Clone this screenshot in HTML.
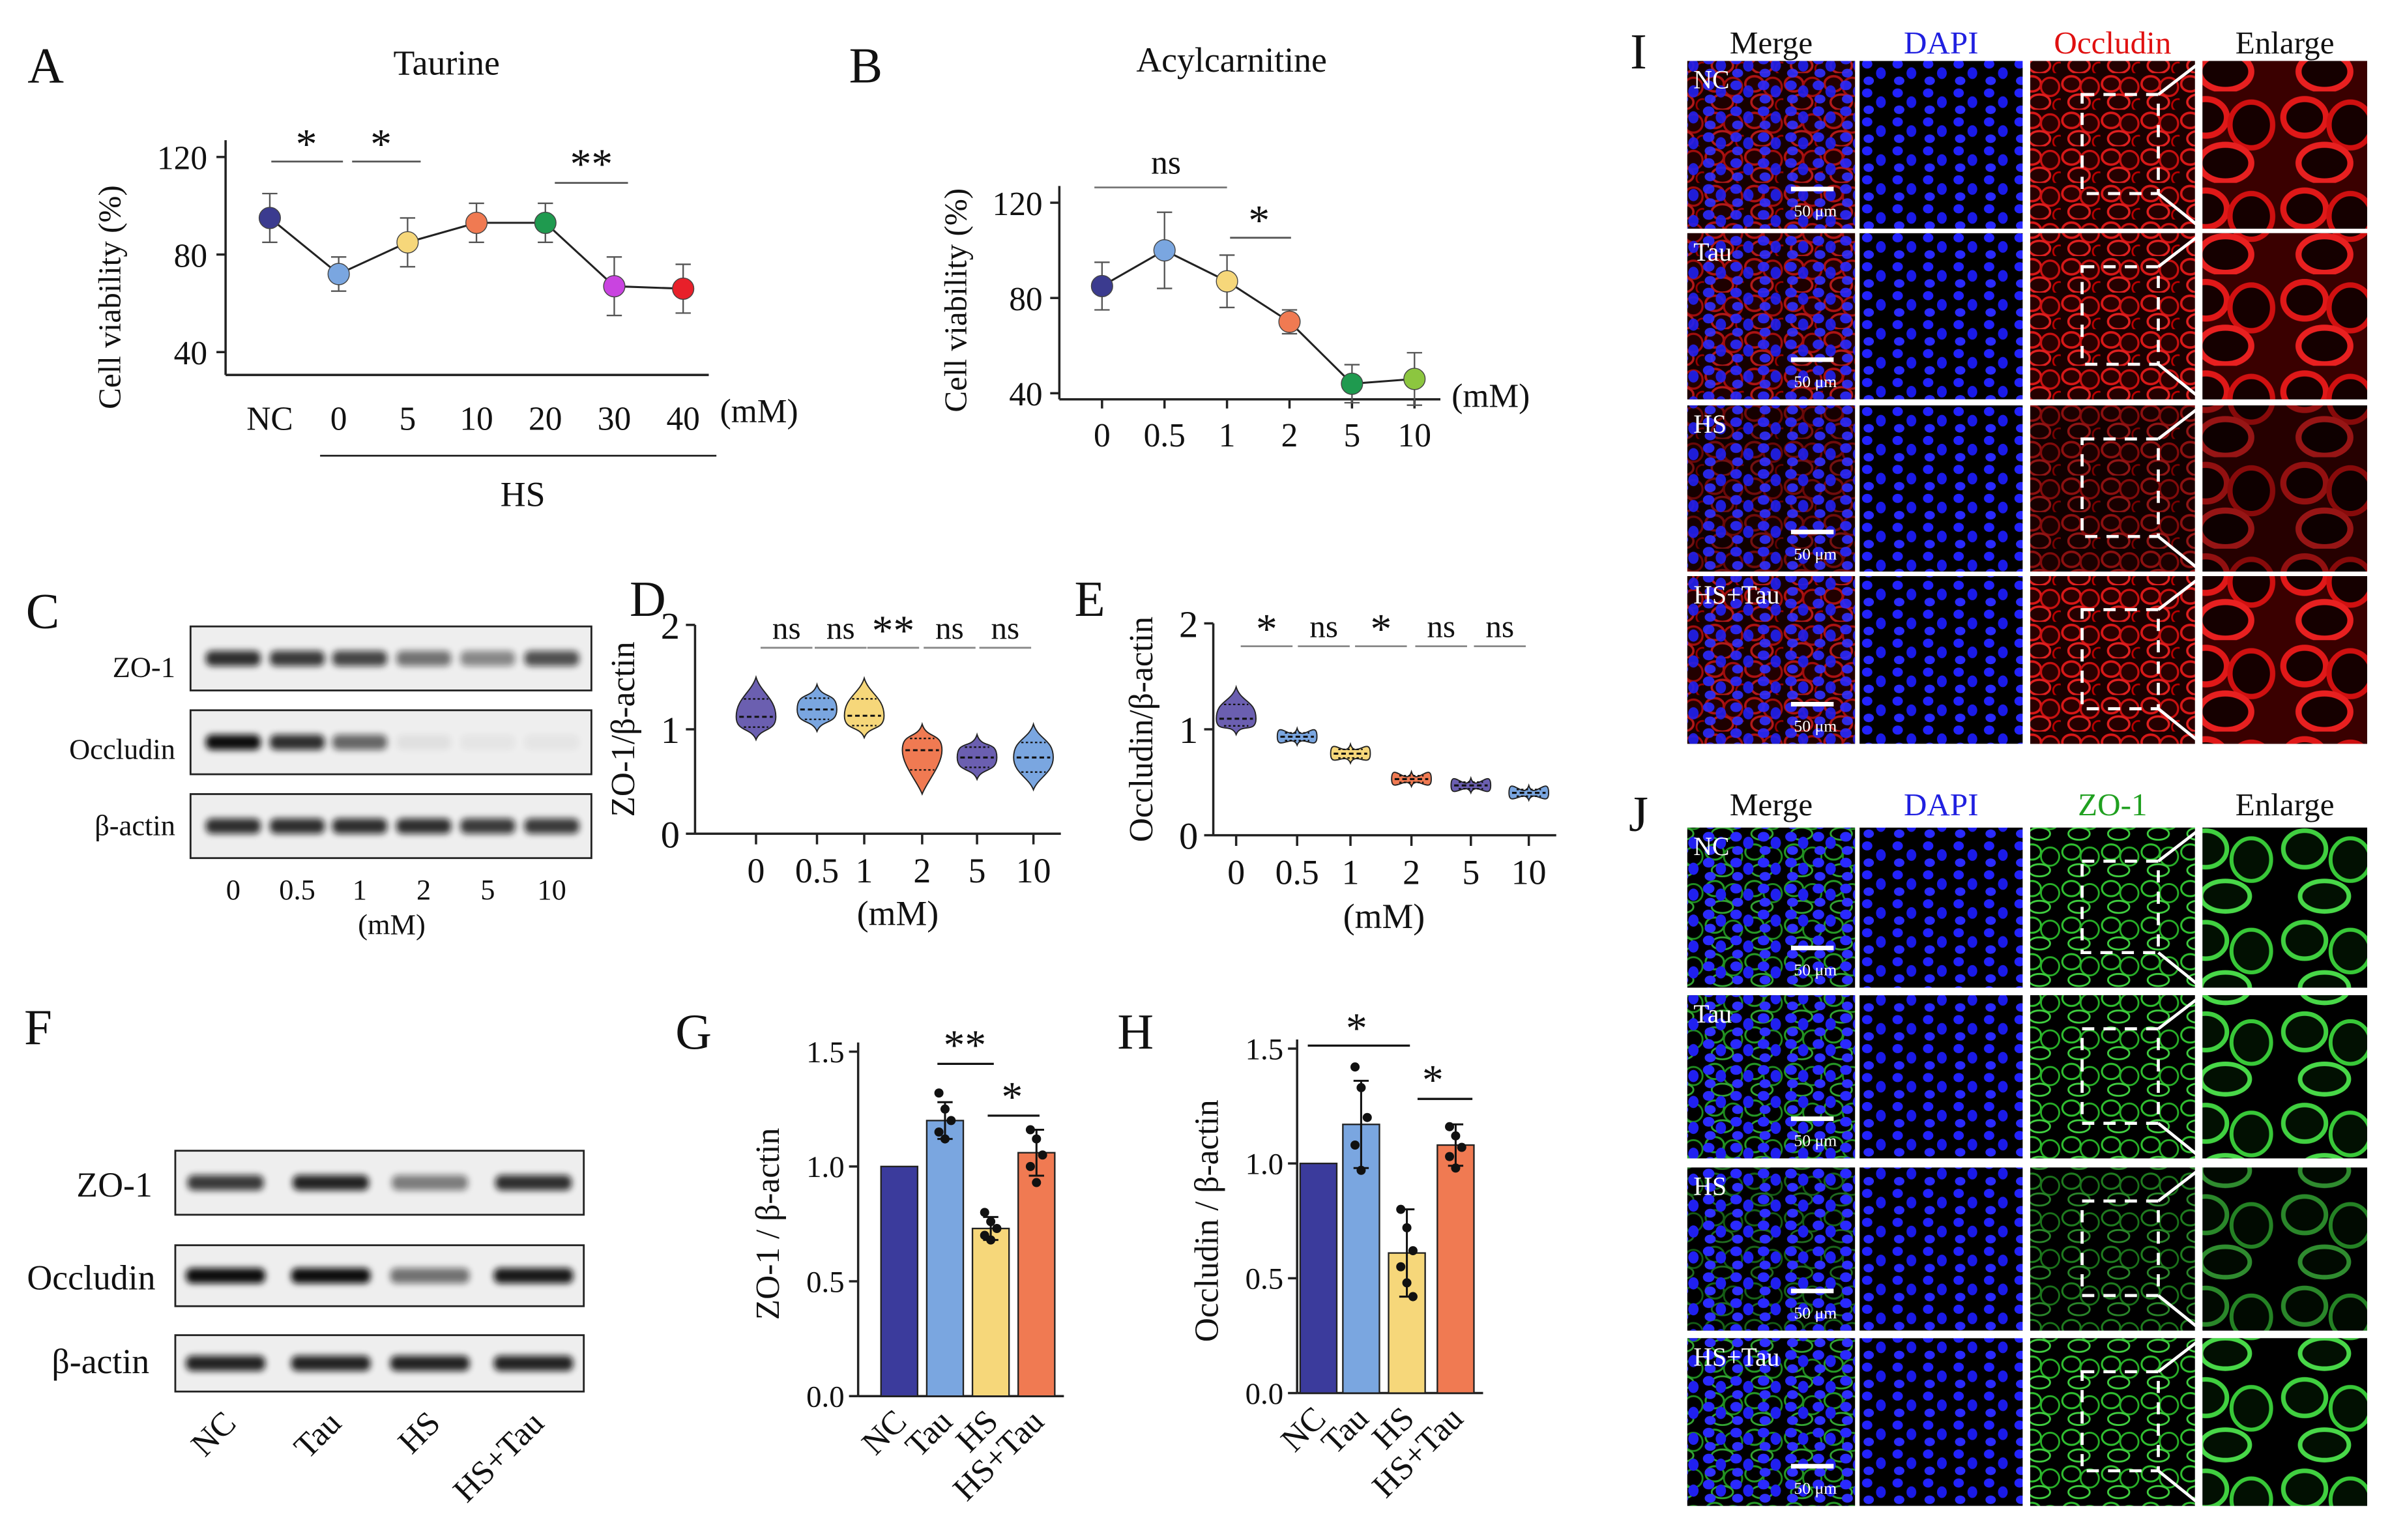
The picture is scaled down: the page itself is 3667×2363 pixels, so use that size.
<!DOCTYPE html>
<html><head><meta charset="utf-8">
<style>
html,body{margin:0;padding:0;background:#fff;}
svg{display:block;font-family:"Liberation Serif","DejaVu Serif",serif;}
</style></head>
<body>
<svg id="fig" xmlns="http://www.w3.org/2000/svg" width="3667" height="2363" viewBox="0 0 1568 1010.4" preserveAspectRatio="none">
<defs>
<filter id="blur1" x="-20%" y="-50%" width="140%" height="200%"><feGaussianBlur stdDeviation="2.2"/></filter>
<pattern id="pRed" width="26" height="24" patternUnits="userSpaceOnUse">
<rect width="26" height="24" fill="#1a0000"/>
<ellipse cx="7" cy="7" rx="6" ry="5" fill="#2a0000" stroke="#d81818" stroke-width="1.6"/>
<ellipse cx="19" cy="9" rx="6" ry="6" fill="#2a0000" stroke="#c81010" stroke-width="1.4"/>
<ellipse cx="12" cy="19" rx="7" ry="5" fill="#250000" stroke="#e02020" stroke-width="1.5"/>
<ellipse cx="25" cy="21" rx="4" ry="4" fill="none" stroke="#b00" stroke-width="1.2"/>
</pattern>
<pattern id="pRedBig" width="65" height="60" patternUnits="userSpaceOnUse">
<rect width="65" height="60" fill="#3a0000"/>
<ellipse cx="17" cy="17" rx="14" ry="12" fill="#150000" stroke="#e01818" stroke-width="4"/>
<ellipse cx="47" cy="22" rx="14" ry="15" fill="#150000" stroke="#d01010" stroke-width="3.5"/>
<ellipse cx="30" cy="47" rx="17" ry="12" fill="#150000" stroke="#e82020" stroke-width="4"/>
</pattern>
<pattern id="pNuc" width="18" height="17" patternUnits="userSpaceOnUse">
<ellipse cx="5" cy="5" rx="3.8" ry="3.2" fill="#2a2aff"/>
<ellipse cx="13" cy="9" rx="3.4" ry="4" fill="#2020f0"/>
<ellipse cx="6" cy="14" rx="3.6" ry="2.9" fill="#3030ff"/>
</pattern>
<pattern id="pNucD" width="20" height="19" patternUnits="userSpaceOnUse">
<rect width="20" height="19" fill="#000"/>
<ellipse cx="5" cy="4" rx="3.4" ry="3" fill="#2222ff"/>
<ellipse cx="14" cy="10" rx="3.2" ry="3.8" fill="#1a1ae8"/>
<ellipse cx="6" cy="15" rx="3.4" ry="2.8" fill="#2a2aff"/>
</pattern>
<pattern id="pGrn" width="26" height="24" patternUnits="userSpaceOnUse">
<rect width="26" height="24" fill="#000"/>
<ellipse cx="7" cy="7" rx="6" ry="5" fill="none" stroke="#30c030" stroke-width="1.3"/>
<ellipse cx="19" cy="10" rx="6" ry="6" fill="none" stroke="#28b028" stroke-width="1.2"/>
<ellipse cx="12" cy="19" rx="7" ry="4" fill="none" stroke="#40d040" stroke-width="1.2"/>
</pattern>
<pattern id="pGrnBig" width="65" height="60" patternUnits="userSpaceOnUse">
<rect width="65" height="60" fill="#000"/>
<ellipse cx="17" cy="17" rx="14" ry="12" fill="#021002" stroke="#40d040" stroke-width="3"/>
<ellipse cx="47" cy="24" rx="13" ry="14" fill="#021002" stroke="#38c838" stroke-width="2.6"/>
<ellipse cx="30" cy="48" rx="16" ry="10" fill="#021002" stroke="#48d848" stroke-width="3"/>
</pattern>
</defs>
</svg>
<script>
// ---------- data ----------
const aCats = ["NC","0","5","10","20","30","40"];
const aVals = [95,72,85,93,93,67,66];
const aErr = [10,7,10,8,8,12,10];
const aColors = ["#3b3b8f","#7aa6e0","#f6d77a","#f07a52","#1f9a4f","#c944e0","#e8202a"];
const aTicks = [40,80,120];

const bCats = ["0","0.5","1","2","5","10"];
const bVals = [85,100,87,70,44,46];
const bErr = [10,16,11,5,8,11];
const bColors = ["#3b3b8f","#7aa6e0","#f6d77a","#f07a52","#1f9a4f","#8cc63f"];
const bTicks = [40,80,120];

const dCats = ["0","0.5","1","2","5","10"];
const dMed = [1.12,1.19,1.13,0.80,0.73,0.73];
const dTop = [1.50,1.43,1.49,1.05,0.95,1.05];
const dBot = [0.90,0.98,0.92,0.38,0.52,0.42];
const dColors = ["#6b5fb0","#7aa6e0","#f6d77a","#f07a52","#6b5fb0","#7aa6e0"];
const dSig = ["ns","ns","**","ns","ns"];
const dTicks = [0,1,2];

const eCats = ["0","0.5","1","2","5","10"];
const eMed = [1.10,0.93,0.77,0.53,0.47,0.40];
const eTop = [1.40,1.01,0.86,0.60,0.54,0.47];
const eBot = [0.95,0.85,0.68,0.46,0.40,0.33];
const eColors = ["#6b5fb0","#7aa6e0","#f6d77a","#f07a52","#6b5fb0","#7aa6e0"];
const eSig = ["*","ns","*","ns","ns"];
const eTicks = [0,1,2];

const gCats = ["NC","Tau","HS","HS+Tau"];
const gVals = [1.0,1.2,0.73,1.06];
const gErr = [0,0.08,0.05,0.1];
const gPts = [[],[1.32,1.25,1.2,1.15,1.12],[0.8,0.76,0.73,0.7,0.68],[1.16,1.12,1.05,1.0,0.93]];
const hCats = ["NC","Tau","HS","HS+Tau"];
const hVals = [1.0,1.17,0.61,1.08];
const hErr = [0,0.19,0.19,0.09];
const hPts = [[],[1.42,1.33,1.2,1.08,0.97],[0.8,0.72,0.62,0.55,0.48,0.42],[1.16,1.12,1.07,1.03,0.98]];
const barColors = ["#3b3b9c","#7aa6e0","#f6d77a","#f07a52"];
const ghTicks = [0,0.5,1.0,1.5];

const cZO = [0.85,0.8,0.75,0.55,0.45,0.7];
const cOcc = [1.0,0.85,0.6,0.06,0.04,0.04];
const cAct = [0.85,0.85,0.85,0.85,0.8,0.8];
const fZO = [0.8,0.9,0.5,0.85];
const fOcc = [1.0,1.0,0.55,0.95];
const fAct = [0.9,0.9,0.9,0.9];

// ---------- helpers ----------
const NS="http://www.w3.org/2000/svg";
const svg=document.getElementById('fig');
function mk(tag,attrs,name,parent){
  const e=document.createElementNS(NS,tag);
  for(const k in attrs) e.setAttribute(k,attrs[k]);
  
  
  (parent||svg).appendChild(e);
  return e;
}
function T(x,y,s,size,name,extra){
  const a=Object.assign({x:x,y:y,'font-size':size,'text-anchor':'middle',fill:'#111'},extra||{});
  const e=mk('text',a,name);
  e.textContent=s;
  return e;
}
function L(x1,y1,x2,y2,name,w,c){
  return mk('line',{x1:x1,y1:y1,x2:x2,y2:y2,stroke:c||'#222','stroke-width':w||1.5},name);
}

// ---------- Panel A ----------
T(30,54,"A",33,"panel-label-a");
T(293,49,"Taurine",23,"title-taurine");
const yA=v=>103+(120-v)*1.6;
const xA=i=>177+i*45.2;
L(148,92,148,246,"a-y-axis");
L(148,246,465,246,"a-x-axis");
aTicks.forEach(t=>{L(142,yA(t),148,yA(t),"a-y-tick");T(136,yA(t)+8,String(t),22,"a-y-tick-label",{'text-anchor':'end'});});
aCats.forEach((c,i)=>T(xA(i),282,c,22,"a-x-tick-label"));
T(498,277,"(mM)",22,"a-unit");
L(210,299,470,299,"hs-bracket",1.2);
T(343,332,"HS",23,"hs-label");
T(79,195,"Cell viability (%)",21,"a-y-axis-title",{transform:"rotate(-90 79 195)"});
mk('polyline',{points:aVals.map((v,i)=>xA(i)+","+yA(v)).join(" "),fill:"none",stroke:"#222","stroke-width":1.3},"a-line");
aVals.forEach((v,i)=>{
  L(xA(i),yA(v+aErr[i]),xA(i),yA(v-aErr[i]),"a-error-bar",1,"#555");
  L(xA(i)-5,yA(v+aErr[i]),xA(i)+5,yA(v+aErr[i]),"a-error-cap",1,"#555");
  L(xA(i)-5,yA(v-aErr[i]),xA(i)+5,yA(v-aErr[i]),"a-error-cap",1,"#555");
  mk('circle',{cx:xA(i),cy:yA(v),r:7,fill:aColors[i],stroke:"#444","stroke-width":0.6},"a-point-"+aCats[i]);
});
L(178,106,225,106,"a-sig-line",1.2,"#555");T(201,104,"*",28,"a-sig");
L(231,106,276,106,"a-sig-line",1.2,"#555");T(250,104,"*",28,"a-sig");
L(364,120,412,120,"a-sig-line",1.2,"#555");T(388,117,"**",28,"a-sig");

// ---------- Panel B ----------
T(568,54,"B",33,"panel-label-b");
T(808,47,"Acylcarnitine",23,"title-acylcarnitine");
const yB=v=>133+(120-v)*1.5625;
const xB=i=>723+i*41;
L(695,122,695,262,"b-y-axis");
L(695,262,945,262,"b-x-axis");
bTicks.forEach(t=>{L(689,yB(t),695,yB(t),"b-y-tick");T(684,yB(t)+8,String(t),22,"b-y-tick-label",{'text-anchor':'end'});});
bCats.forEach((c,i)=>{L(xB(i),262,xB(i),268,"b-x-tick");T(xB(i),293,c,22,"b-x-tick-label");});
T(978,267,"(mM)",22,"b-unit");
T(634,197,"Cell viability (%)",21,"b-y-axis-title",{transform:"rotate(-90 634 197)"});
mk('polyline',{points:bVals.map((v,i)=>xB(i)+","+yB(v)).join(" "),fill:"none",stroke:"#222","stroke-width":1.3},"b-line");
bVals.forEach((v,i)=>{
  L(xB(i),yB(v+bErr[i]),xB(i),yB(v-bErr[i]),"b-error-bar",1,"#555");
  L(xB(i)-5,yB(v+bErr[i]),xB(i)+5,yB(v+bErr[i]),"b-error-cap",1,"#555");
  L(xB(i)-5,yB(v-bErr[i]),xB(i)+5,yB(v-bErr[i]),"b-error-cap",1,"#555");
  mk('circle',{cx:xB(i),cy:yB(v),r:7,fill:bColors[i],stroke:"#444","stroke-width":0.6},"b-point-"+bCats[i]);
});
L(718,123,805,123,"b-sig-line",1.2,"#777");T(765,114,"ns",22,"b-sig");
L(807,156,847,156,"b-sig-line",1.2,"#555");T(826,154,"*",28,"b-sig");

// ---------- blots ----------
function blot(x,y,w,h,lanes,vals,bw,name){
  const g=mk('g',{},name);
  mk('rect',{x:x,y:y,width:w,height:h,fill:"#eeeeee",stroke:"#222","stroke-width":1.2},name+"-box",g);
  vals.forEach((v,i)=>{
    mk('rect',{x:lanes[i]-bw/2,y:y+h/2-5,width:bw,height:10,rx:4,fill:"#111",opacity:v,filter:"url(#blur1)"},name+"-band",g);
  });
}
T(28,412,"C",33,"panel-label-c");
const cL=[153,195,236,278,320,362];
blot(125,411,263,42,cL,cZO,36,"c-blot-zo1");
blot(125,466,263,42,cL,cOcc,36,"c-blot-occludin");
blot(125,521,263,42,cL,cAct,36,"c-blot-actin");
T(115,444,"ZO-1",19,"c-label-zo1",{'text-anchor':'end'});
T(115,498,"Occludin",19,"c-label-occludin",{'text-anchor':'end'});
T(115,548,"β-actin",19,"c-label-actin",{'text-anchor':'end'});
["0","0.5","1","2","5","10"].forEach((c,i)=>T(cL[i],590,c,19,"c-lane-label"));
T(257,613,"(mM)",19,"c-unit");

T(25,685,"F",33,"panel-label-f");
const fL=[148,217,282,350];
blot(115,755,268,42,fL,fZO,50,"f-blot-zo1");
blot(115,817,268,40,fL,fOcc,52,"f-blot-occludin");
blot(115,876,268,37,fL,fAct,52,"f-blot-actin");
T(100,785,"ZO-1",23,"f-label-zo1",{'text-anchor':'end'});
T(102,846,"Occludin",23,"f-label-occludin",{'text-anchor':'end'});
T(98,901,"β-actin",23,"f-label-actin",{'text-anchor':'end'});
["NC","Tau","HS","HS+Tau"].forEach((c,i)=>T(fL[i]+8,935,c,22,"f-lane-label",{'text-anchor':'end',transform:"rotate(-45 "+(fL[i]+8)+" 935)"}));

// ---------- violins ----------
function violin(cx,yf,med,top,bot,col,name){
  const w=13, yt=yf(top), yb=yf(bot), ym=yf(med);
  const d="M"+cx+","+yt+" C"+(cx+3)+","+(yt+10)+" "+(cx+w)+","+(ym-12)+" "+(cx+w)+","+ym+
    " C"+(cx+w)+","+(ym+10)+" "+(cx+3)+","+(yb-8)+" "+cx+","+yb+
    " C"+(cx-3)+","+(yb-8)+" "+(cx-w)+","+(ym+10)+" "+(cx-w)+","+ym+
    " C"+(cx-w)+","+(ym-12)+" "+(cx-3)+","+(yt+10)+" "+cx+","+yt+"Z";
  mk('path',{d:d,fill:col,stroke:"#222","stroke-width":0.8},name);
  L(cx-w+2,ym,cx+w-2,ym,name+"-median",1.3,"#111").setAttribute('stroke-dasharray','3 2');
  const q1=yf(med+(top-med)*0.45), q3=yf(med-(med-bot)*0.45);
  L(cx-8,q1,cx+8,q1,name+"-quartile",1,"#111").setAttribute('stroke-dasharray','1.5 1.5');
  L(cx-8,q3,cx+8,q3,name+"-quartile",1,"#111").setAttribute('stroke-dasharray','1.5 1.5');
}
function violinPanel(ox,yTop,yZero,cats,xs,med,top,bot,cols,sig,ticks,ylab,pfx){
  const yf=v=>yZero-(yZero-yTop)*v/2;
  L(ox,yTop,ox,yZero,pfx+"-y-axis");
  L(ox,yZero,xs[xs.length-1]+18,yZero,pfx+"-x-axis");
  ticks.forEach(t=>{L(ox-6,yf(t),ox,yf(t),pfx+"-y-tick");T(ox-10,yf(t)+9,String(t),25,pfx+"-y-tick-label",{'text-anchor':'end'});});
  cats.forEach((c,i)=>{L(xs[i],yZero,xs[i],yZero+7,pfx+"-x-tick");T(xs[i],yZero+32,c,23,pfx+"-x-tick-label");});
  med.forEach((m,i)=>violin(xs[i],yf,m,top[i],bot[i],cols[i],pfx+"-violin-"+cats[i]));
  sig.forEach((s,i)=>{
    const mx=(xs[i]+xs[i+1])/2;
    L(mx-17,yTop+15,mx+17,yTop+15,pfx+"-sig-line",1.2,"#888");
    T(mx,yTop+(s.indexOf('*')>=0?13:9),s,s.indexOf('*')>=0?28:21,pfx+"-sig");
  });
  T(ox-40,(yTop+yZero)/2,ylab,22,pfx+"-y-axis-title",{transform:"rotate(-90 "+(ox-40)+" "+((yTop+yZero)/2)+")"});
}
T(425,404,"D",33,"panel-label-d");
violinPanel(456,410,547,dCats,[496,536,567,605,641,678],dMed,dTop,dBot,dColors,dSig,dTicks,"ZO-1/β-actin","d");
T(589,607,"(mM)",23,"d-unit");
T(715,404,"E",33,"panel-label-e");
violinPanel(796,409,548,eCats,[811,851,886,926,965,1003],eMed,eTop,eBot,eColors,eSig,eTicks,"Occludin/β-actin","e");
T(908,609,"(mM)",23,"e-unit");

// ---------- bars ----------
function barPanel(ox,y15,y0,xs,cats,vals,err,pts,ylab,pfx){
  const yf=v=>y0-(y0-y15)*v/1.5;
  L(ox,y15-6,ox,y0,pfx+"-y-axis");
  L(ox,y0,xs[xs.length-1]+18,y0,pfx+"-x-axis");
  ghTicks.forEach(t=>{L(ox-6,yf(t),ox,yf(t),pfx+"-y-tick");T(ox-9,yf(t)+7,t.toFixed(1),20,pfx+"-y-tick-label",{'text-anchor':'end'});});
  vals.forEach((v,i)=>{
    mk('rect',{x:xs[i]-12,y:yf(v),width:24,height:y0-yf(v),fill:barColors[i],stroke:"#222","stroke-width":1},pfx+"-bar-"+cats[i]);
    if(err[i]>0){
      L(xs[i],yf(v+err[i]),xs[i],yf(v-err[i]),pfx+"-error-bar",1.3,"#111");
      L(xs[i]-5,yf(v+err[i]),xs[i]+5,yf(v+err[i]),pfx+"-error-cap",1.3,"#111");
      L(xs[i]-5,yf(v-err[i]),xs[i]+5,yf(v-err[i]),pfx+"-error-cap",1.3,"#111");
    }
    pts[i].forEach((p,j)=>mk('circle',{cx:xs[i]+((j%3)-1)*4,cy:yf(p),r:3,fill:"#111"},pfx+"-dot"));
    T(xs[i]+6,y0+18,cats[i],22,pfx+"-x-tick-label",{'text-anchor':'end',transform:"rotate(-45 "+(xs[i]+6)+" "+(y0+18)+")"});
  });
  T(ox-52,(y15+y0)/2,ylab,22,pfx+"-y-axis-title",{transform:"rotate(-90 "+(ox-52)+" "+((y15+y0)/2)+")"});
}
T(455,688,"G",33,"panel-label-g");
barPanel(563,690,916,[590,620,650,680],gCats,gVals,gErr,gPts,"ZO-1 / β-actin","g");
L(615,698,652,698,"g-sig-line",1.4,"#111");T(633,695,"**",28,"g-sig");
L(648,732,682,732,"g-sig-line",1.4,"#111");T(664,729,"*",28,"g-sig");
T(745,688,"H",33,"panel-label-h");
barPanel(851,688,914,[865,893,923,955],hCats,hVals,hErr,hPts,"Occludin / β-actin","h");
L(858,686,925,686,"h-sig-line",1.4,"#111");T(890,684,"*",28,"h-sig");
L(930,721,966,721,"h-sig-line",1.4,"#111");T(940,718,"*",28,"h-sig");

// ---------- microscopy ----------
const colX=[1107,1220,1332,1445];
const colW=[110,107,108,108];
function micro(label,rowsY,rowsH,headers,hcols,headY,fillMerge,fillChan,fillBig,nucOver,pfx){
  T(1075,headY+10,label,33,"panel-label-"+pfx);
  headers.forEach((h,i)=>T(colX[i]+colW[i]/2,headY,h,21,pfx+"-header-"+h.toLowerCase(),{fill:hcols[i]}));
  const rl=["NC","Tau","HS","HS+Tau"];
  rowsY.forEach((y,r)=>{
    const h=rowsH[r], dim=(r==2)?0.65:1;
    mk('rect',{x:colX[0],y:y,width:colW[0],height:h,fill:"#000"},pfx+"-merge-bg");
    mk('rect',{x:colX[0],y:y,width:colW[0],height:h,fill:fillMerge,opacity:dim*0.8},pfx+"-merge-"+rl[r]);
    mk('rect',{x:colX[0],y:y,width:colW[0],height:h,fill:"url(#pNuc)",opacity:nucOver},pfx+"-merge-nuclei");
    mk('rect',{x:colX[1],y:y,width:colW[1],height:h,fill:"url(#pNucD)"},pfx+"-dapi-"+rl[r]);
    mk('rect',{x:colX[2],y:y,width:colW[2],height:h,fill:"#000"},pfx+"-chan-bg");
    mk('rect',{x:colX[2],y:y,width:colW[2],height:h,fill:fillChan,opacity:dim},pfx+"-channel-"+rl[r]);
    mk('rect',{x:colX[3],y:y,width:colW[3],height:h,fill:"#000"},pfx+"-enlarge-bg");
    mk('rect',{x:colX[3],y:y,width:colW[3],height:h,fill:fillBig,opacity:dim},pfx+"-enlarge-"+rl[r]);
    T(colX[0]+4,y+18,rl[r],17,pfx+"-row-label",{fill:"#fff",'text-anchor':'start'});
    L(colX[0]+68,y+h-26,colX[0]+96,y+h-26,pfx+"-scale-bar",3,"#fff");
    T(colX[0]+84,y+h-8,"50 μm",11,pfx+"-scale-label",{fill:"#fff"});
    const bx=colX[2]+34,by=y+22,bw=50,bh=h-45;
    mk('rect',{x:bx,y:by,width:bw,height:bh,fill:"none",stroke:"#fff","stroke-width":2,"stroke-dasharray":"8 6"},pfx+"-zoom-box");
    L(bx+bw,by,colX[2]+colW[2]+2,y+2,pfx+"-zoom-line",2,"#fff");
    L(bx+bw,by+bh,colX[2]+colW[2]+2,y+h-2,pfx+"-zoom-line",2,"#fff");
  });
}
micro("I",[40,153,266,378],[110,109,109,110],["Merge","DAPI","Occludin","Enlarge"],["#111","#2020e0","#e01010","#111"],35,"url(#pRed)","url(#pRed)","url(#pRedBig)",0.9,"i");
micro("J",[543,653,766,878],[105,107,107,110],["Merge","DAPI","ZO-1","Enlarge"],["#111","#2020e0","#20a020","#111"],535,"url(#pGrn)","url(#pGrn)","url(#pGrnBig)",1,"j");
</script>
</body></html>
